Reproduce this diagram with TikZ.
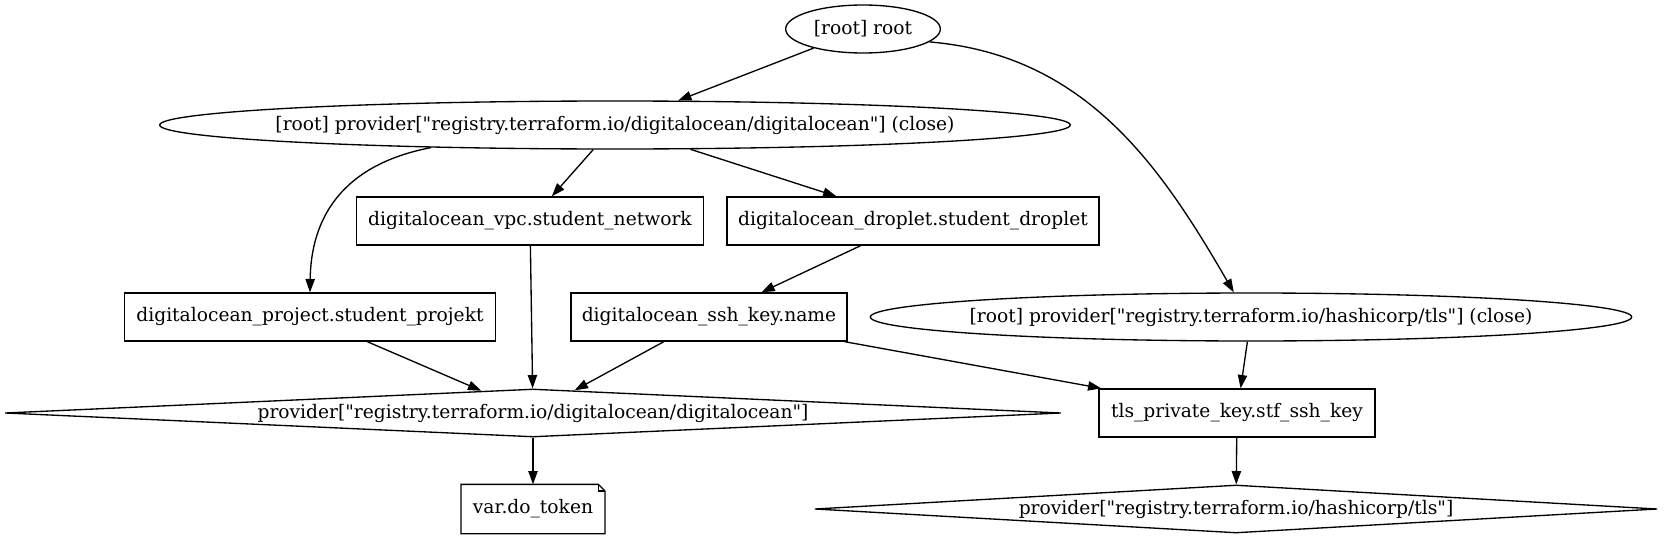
\documentclass[tikz,border=0pt]{standalone}
\usepackage{fontspec}
\setmainfont{DejaVu Serif}
\usetikzlibrary{shapes.geometric,arrows.meta}
\def\nw#1{\makebox[0pt]{#1}}
\def\q{\textquotedbl}
\begin{document}
\begin{tikzpicture}[x=0.75pt,y=-0.75pt]
\tikzstyle{gv}=[font=\fontsize{14}{16}\selectfont,inner sep=0pt,line width=1pt]
\tikzstyle{oval}=[gv,draw,ellipse,minimum height=36pt]
\tikzstyle{box}=[gv,draw,rectangle,minimum height=36pt]
\tikzstyle{rhomb}=[gv,draw,diamond,aspect=20,minimum height=36pt]
\tikzstyle{notebox}=[gv,rectangle,minimum height=36pt]
\tikzstyle{link}=[draw,line width=1pt,-{Triangle[length=10pt,width=7pt]}]
\useasboundingbox (0,0) rectangle (1664,539);
\node[oval,minimum width=116pt] (root) at (863,29) {[root] root};
\node[oval,minimum width=683pt] (doclose) at (615,125) {\nw{[root] provider[\q registry.terraform.io/digitalocean/digitalocean\q] (close)}};
\node[box,minimum width=260pt] (vpc) at (530,221) {digitalocean\_vpc.student\_network};
\node[box,minimum width=279pt] (droplet) at (913,221) {digitalocean\_droplet.student\_droplet};
\node[box,minimum width=278pt] (project) at (310,317) {digitalocean\_project.student\_projekt};
\node[box,minimum width=207pt] (sshkey) at (709,317) {digitalocean\_ssh\_key.name};
\node[oval,minimum width=571pt] (tlsclose) at (1251,317) {\nw{[root] provider[\q registry.terraform.io/hashicorp/tls\q] (close)}};
\node[rhomb,minimum width=792pt] (doprov) at (533,413) {\nw{provider[\q registry.terraform.io/digitalocean/digitalocean\q]}};
\node[box,minimum width=207pt] (tlskey) at (1237,413) {tls\_private\_key.stf\_ssh\_key};
\node[notebox,minimum width=107pt] (token) at (533,509) {var.do\_token};
\node[rhomb,minimum width=632pt] (tlsprov) at (1236,509) {\nw{provider[\q registry.terraform.io/hashicorp/tls\q]}};
% folded corner of the note
\draw[line width=1pt] (token.south west) -- (token.south east) -- ([yshift=-5pt]token.north east) -- ([xshift=-5pt]token.north east) -- (token.north west) -- cycle;
\draw[line width=1pt] ([xshift=-5pt]token.north east) |- ([yshift=-5pt]token.north east);
\path[link] (root) -- (doclose);
\path[link] (root.-11) .. controls (1085,55) and (1160,165) .. (tlsclose.125);
\path[link] (doclose.187) .. controls (340,165) and (311,220) .. (project.north);
\path[link] (doclose) -- (vpc);
\path[link] (doclose) -- (droplet);
\path[link] (vpc) -- (doprov);
\path[link] (droplet) -- (sshkey);
\path[link] (project) -- (doprov);
\path[link] (sshkey) -- (doprov);
\path[link] (sshkey) -- (tlskey);
\path[link] (tlsclose) -- (tlskey);
\path[link] (doprov) -- (token);
\path[link] (tlskey) -- (tlsprov);
\end{tikzpicture}
\end{document}
